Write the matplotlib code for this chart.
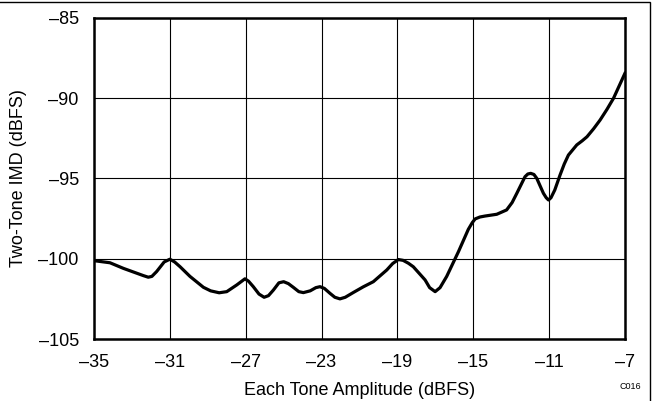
import matplotlib
matplotlib.use('Agg')
import matplotlib.pyplot as plt
from matplotlib.patches import Rectangle

plt.rcParams['font.family'] = ['Liberation Sans', 'DejaVu Sans']

# Curve
amplitude = [-35.0, -34.16, -33.45, -32.75, -32.4, -32.14, -31.95, -31.7, -31.3, -31.0,
             -30.75, -30.46, -29.94, -29.23, -28.85, -28.4, -28.0, -27.47, -27.04, -26.85,
             -26.6, -26.3, -26.03, -25.8, -25.54, -25.25, -25.0, -24.75, -24.49,
             -24.2, -23.96, -23.6, -23.3, -23.08, -22.85, -22.55, -22.3, -22.03,
             -21.75, -21.32, -20.8, -20.27, -19.56, -19.25, -18.95, -18.7, -18.42,
             -18.16, -17.54, -17.3, -17.01, -16.75, -16.4, -15.78, -15.26, -15.05,
             -14.9, -14.65, -14.38, -13.76, -13.24, -12.95, -12.7, -12.27, -12.12,
             -11.97, -11.8, -11.65, -11.3, -11.15, -11.03, -10.9, -10.7, -10.42,
             -10.2, -9.98, -9.54, -9.25, -9.0, -8.65, -8.31, -7.95, -7.6, -7.0]
imd = [-100.12, -100.25, -100.6, -100.9, -101.05, -101.15, -101.1, -100.8, -100.2, -100.03,
       -100.2, -100.5, -101.1, -101.78, -102.0, -102.12, -102.05, -101.63, -101.25, -101.4,
       -101.74, -102.2, -102.4, -102.3, -101.95, -101.5, -101.43, -101.55, -101.78,
       -102.05, -102.11, -102.0, -101.8, -101.74, -101.85, -102.16, -102.4, -102.5,
       -102.4, -102.1, -101.75, -101.43, -100.7, -100.3, -100.05, -100.1, -100.28,
       -100.5, -101.32, -101.8, -102.05, -101.8, -101.1, -99.56, -98.17, -97.75,
       -97.52, -97.4, -97.34, -97.23, -96.96, -96.5, -95.92, -94.89, -94.72,
       -94.68, -94.75, -94.99, -95.92, -96.2, -96.34, -96.2, -95.72, -94.78,
       -94.1, -93.54, -92.91, -92.65, -92.4, -91.9, -91.36, -90.7, -90.0, -88.45]

x_ticks = [-35, -31, -27, -23, -19, -15, -11, -7]
y_ticks = [-105, -100, -95, -90, -85]

fig = plt.figure(figsize=(6.53, 4.01), dpi=100)
ax = fig.add_axes([0.144, 0.1546, 0.813, 0.8006])

ax.plot(amplitude, imd, color='black', linewidth=2.3, zorder=3,
        solid_joinstyle='round')

ax.set_xlim(-35, -7)
ax.set_ylim(-105, -85)
ax.set_xticks(x_ticks)
ax.set_yticks(y_ticks)
ax.set_xticklabels([f'\u2013{abs(v)}' for v in x_ticks])
ax.set_yticklabels([f'\u2013{abs(v)}' for v in y_ticks])
ax.tick_params(length=0, labelsize=13, pad=11)
ax.grid(True, color='black', linewidth=0.8)
ax.set_axisbelow(True)
for s in ax.spines.values():
    s.set_linewidth(1.8)

ax.set_xlabel('Each Tone Amplitude (dBFS)', fontsize=13, labelpad=8)
ax.set_ylabel('Two-Tone IMD (dBFS)', fontsize=13, labelpad=8)

fig.text(0.965, 0.035, 'C016', fontsize=6.5, ha='center', va='center')

# outer frame of the figure
fig.patches.append(Rectangle((-0.01, -0.01), 1.005, 1.005, transform=fig.transFigure,
                             fill=False, edgecolor='black', linewidth=1.0))

fig.savefig('out.png', dpi=100)
